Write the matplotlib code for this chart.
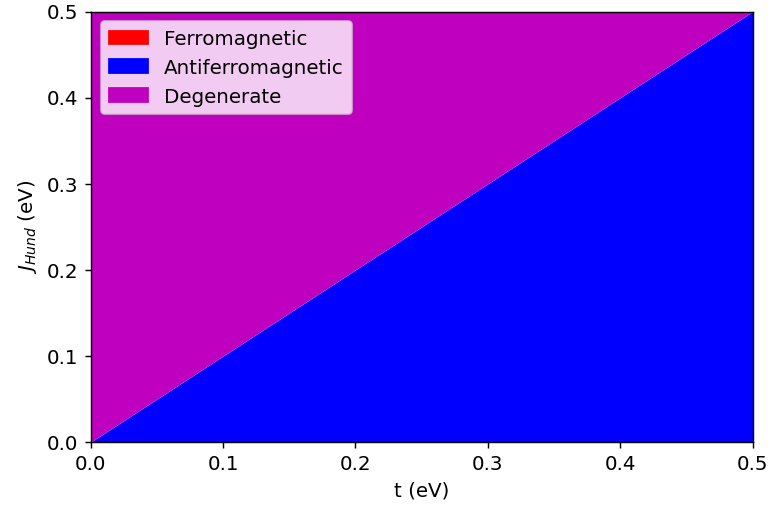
import matplotlib
matplotlib.use("Agg")
import matplotlib.pyplot as plt
import matplotlib.patches as mpatches

# phase boundary between degenerate (above) and antiferromagnetic (below)
t_boundary = [0.0, 0.5]
J_boundary = [0.0, 0.5]
J_max = 0.5

fase_nombres = ["Ferromagnetic", "Antiferromagnetic", "Degenerate"]
fase_colores = ["r", "b", "m"]

plt.rcParams["font.size"] = 11.2

fig, ax = plt.subplots(figsize=(6, 4.01), dpi=128)
fig.subplots_adjust(left=0.118, right=0.980, bottom=0.138, top=0.977)

# region antiferromagnetica (debajo de la frontera)
ax.fill_between(t_boundary, 0.0, J_boundary, color="b", linewidth=0)
# region degenerada (encima de la frontera)
ax.fill_between(t_boundary, J_boundary, J_max, color="m", linewidth=0)

ax.set_xlim(0, 0.5)
ax.set_ylim(0, 0.5)
ax.set_xlabel("t (eV)")
ax.set_ylabel(r"$J_{Hund}$ (eV)")

parches = [mpatches.Patch(color=c, label=n) for c, n in zip(fase_colores, fase_nombres)]
ax.legend(handles=parches, loc="upper left")

fig.savefig("out.png", dpi=128)
